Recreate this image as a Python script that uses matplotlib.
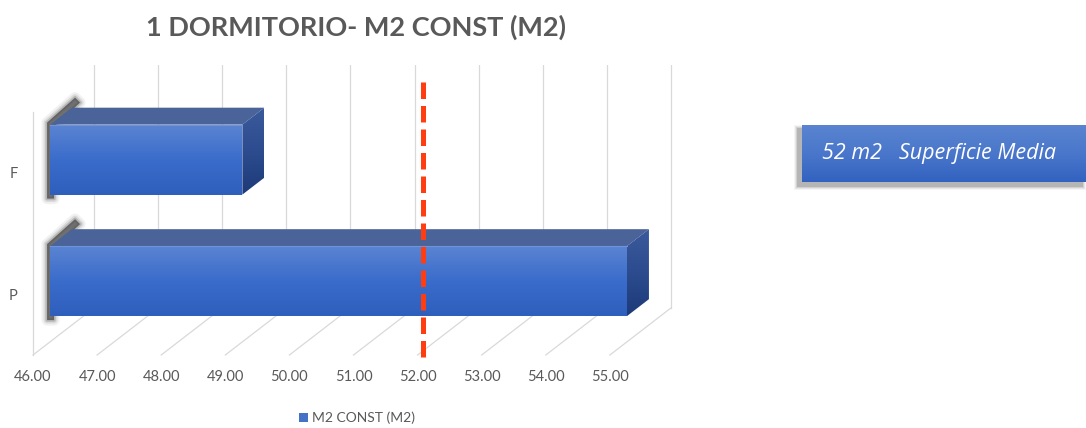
import numpy as np
import matplotlib.pyplot as plt
from matplotlib.patches import Polygon, Rectangle, Patch
from matplotlib.colors import LinearSegmentedColormap

# ---- data ----
categories = ["P", "F"]
m2_const = [55.0, 49.0]
x_ticks = [46, 47, 48, 49, 50, 51, 52, 53, 54, 55]
mean_m2 = 52.0
series_name = "M2 CONST (M2)"
chart_title = "1 DORMITORIO- M2 CONST (M2)"
note_text = "52 m2   Superficie Media"

# ---- figure / axes ----
W, H = 1086, 428
fig = plt.figure(figsize=(W / 100, H / 100), dpi=100)
fig.patch.set_facecolor("white")

PX_X = 64.1      # pixels per m2 unit
PX_Y = 121.5     # pixels per category slot
DEPTH_PX = (61, 47)
ax_left, ax_bottom = 33, 428 - 355
ax_w = 10 * PX_X
ax_h = 2 * PX_Y + DEPTH_PX[1]
ax = fig.add_axes([ax_left / W, ax_bottom / H, ax_w / W, ax_h / H])
x0, x1 = 46, 56
y0, y1 = -0.5, 1.5 + DEPTH_PX[1] / PX_Y
DX = DEPTH_PX[0] / PX_X
DY = DEPTH_PX[1] / PX_Y

grid_c = "#d9d9d9"
text_c = "#595959"

# back wall gridlines, floor lines and the side wall edge
for v in x_ticks:
    ax.plot([v + DX, v + DX], [-0.5 + DY, 1.5 + DY], color=grid_c, lw=0.9, zorder=1)
    ax.plot([v, v + DX], [-0.5, -0.5 + DY], color=grid_c, lw=0.9, zorder=1, clip_on=False)
ax.plot([x_ticks[0], x_ticks[0]], [-0.5, 1.5], color=grid_c, lw=0.9, zorder=1, clip_on=False)

front_cmap = LinearSegmentedColormap.from_list("front", ["#2f5fbd", "#3a6ccb", "#5b84d2"])
side_cmap = LinearSegmentedColormap.from_list("side", ["#1d3a78", "#2c4c8f", "#3a5a9c"])

grad_v = np.linspace(0, 1, 256).reshape(-1, 1)


def gradient_fill(poly_pts, cmap, extent, z):
    poly = Polygon(poly_pts, closed=True, facecolor="none", edgecolor="none",
                   transform=ax.transData)
    ax.add_patch(poly)
    im = ax.imshow(grad_v, cmap=cmap, extent=extent, origin="lower",
                   aspect="auto", interpolation="bilinear", zorder=z)
    im.set_clip_path(poly)


def px(dx, dy):
    return dx / PX_X, dy / PX_Y


half = 0.288
d0, d1 = 0.28, 0.64
base = x_ticks[0]
for i, (cat, val) in enumerate(zip(categories, m2_const)):
    fx0, fx1 = base + d0 * DX, val + d0 * DX
    fy0, fy1 = i - half + d0 * DY, i + half + d0 * DY
    bx0, bx1 = base + d1 * DX, val + d1 * DX
    by0, by1 = i - half + d1 * DY, i + half + d1 * DY

    # soft shadow cast by the left end of the bar
    offs = [(-3, -74), (-3, 2), (25, 27), (30, 22), (4, -2), (4, -74)]
    pts = [(fx0 + px(a, b)[0], fy1 + px(a, b)[1]) for a, b in offs]
    for lw, a in [(8, 0.07), (5, 0.12), (2.5, 0.22)]:
        ax.add_patch(Polygon(pts, closed=True, facecolor="none", edgecolor="#404040",
                             lw=lw, alpha=a, joinstyle="round", zorder=3))
    ax.add_patch(Polygon(pts, closed=True, facecolor="#404040", edgecolor="none",
                         alpha=0.7, zorder=3))

    # top face
    ax.add_patch(Polygon([(fx0, fy1), (fx1, fy1), (bx1, by1), (bx0, by1)],
                         closed=True, facecolor="#4a6398", edgecolor="none", zorder=4))
    # right face
    gradient_fill([(fx1, fy0), (fx1, fy1), (bx1, by1), (bx1, by0)], side_cmap,
                  (fx1, bx1, fy0, by1), 4)
    # front face
    gradient_fill([(fx0, fy0), (fx1, fy0), (fx1, fy1), (fx0, fy1)], front_cmap,
                  (fx0, fx1, fy0, fy1), 5)
    ax.plot([fx0, fx1], [fy1, fy1], color="#6f93d8", lw=0.8, zorder=5.5)

# mean reference line
mean_depth = 0.09
ax.plot([mean_m2 + mean_depth * DX, mean_m2 + mean_depth * DX], [-0.52, 1.80],
        color="#ff3d10", lw=3.6, dashes=(3.3, 1.4), solid_capstyle="butt",
        dash_capstyle="butt", zorder=8, clip_on=False)

ax.set_xlim(x0, x1)
ax.set_ylim(y0, y1)
for sp in ax.spines.values():
    sp.set_visible(False)
ax.set_xticks(x_ticks)
ax.set_xticklabels([f"{v:.2f}" for v in x_ticks], family="Lato", fontsize=10.5, color=text_c)
ax.set_yticks(range(len(categories)))
ax.set_yticklabels(categories, family="Lato", fontsize=10.5, color=text_c)
ax.tick_params(axis="x", length=0, pad=11)
ax.tick_params(axis="y", length=0, pad=11)
ax.patch.set_visible(False)

# title
fig.text(356 / W, 1 - 27 / H, chart_title, ha="center", va="center",
         family="Lato", weight="bold", fontsize=19.5, color=text_c)

# legend
fig.legend(handles=[Patch(facecolor="#4472c4", edgecolor="none", label=series_name)],
           loc="center", bbox_to_anchor=(357 / W, 1 - 418 / H), frameon=False,
           prop={"family": "Lato", "size": 10}, labelcolor=text_c,
           handlelength=0.6, handleheight=0.6, handletextpad=0.3)

# annotation box with drop shadow
bx, by, bw, bh = 802, 428 - 182, 1086 - 802, 57
for k, a in enumerate([0.04, 0.06, 0.09, 0.13]):
    g = 4 - k
    fig.patches.append(Rectangle(((bx - 4 - g) / W, (by - 4 - g) / H),
                                 (bw + 2 * g) / W, (bh + 2 * g) / H,
                                 transform=fig.transFigure, facecolor="#000000",
                                 edgecolor="none", alpha=a, zorder=-1))
box_ax = fig.add_axes([bx / W, by / H, bw / W, bh / H], zorder=2)
box_ax.imshow(grad_v, cmap=LinearSegmentedColormap.from_list("box", ["#3262c0", "#4a77cb", "#5a84d0"]),
              extent=(0, 1, 0, 1), origin="lower", aspect="auto", interpolation="bilinear")
box_ax.set_xlim(0, 1)
box_ax.set_ylim(0, 1)
box_ax.axis("off")
box_ax.text((822 - bx) / bw, (182 - 159) / bh, note_text, ha="left", va="baseline",
            family="Open Sans", style="italic", fontsize=15.5, color="white",
            transform=box_ax.transAxes)

fig.savefig("out.png", dpi=100, facecolor="white")
